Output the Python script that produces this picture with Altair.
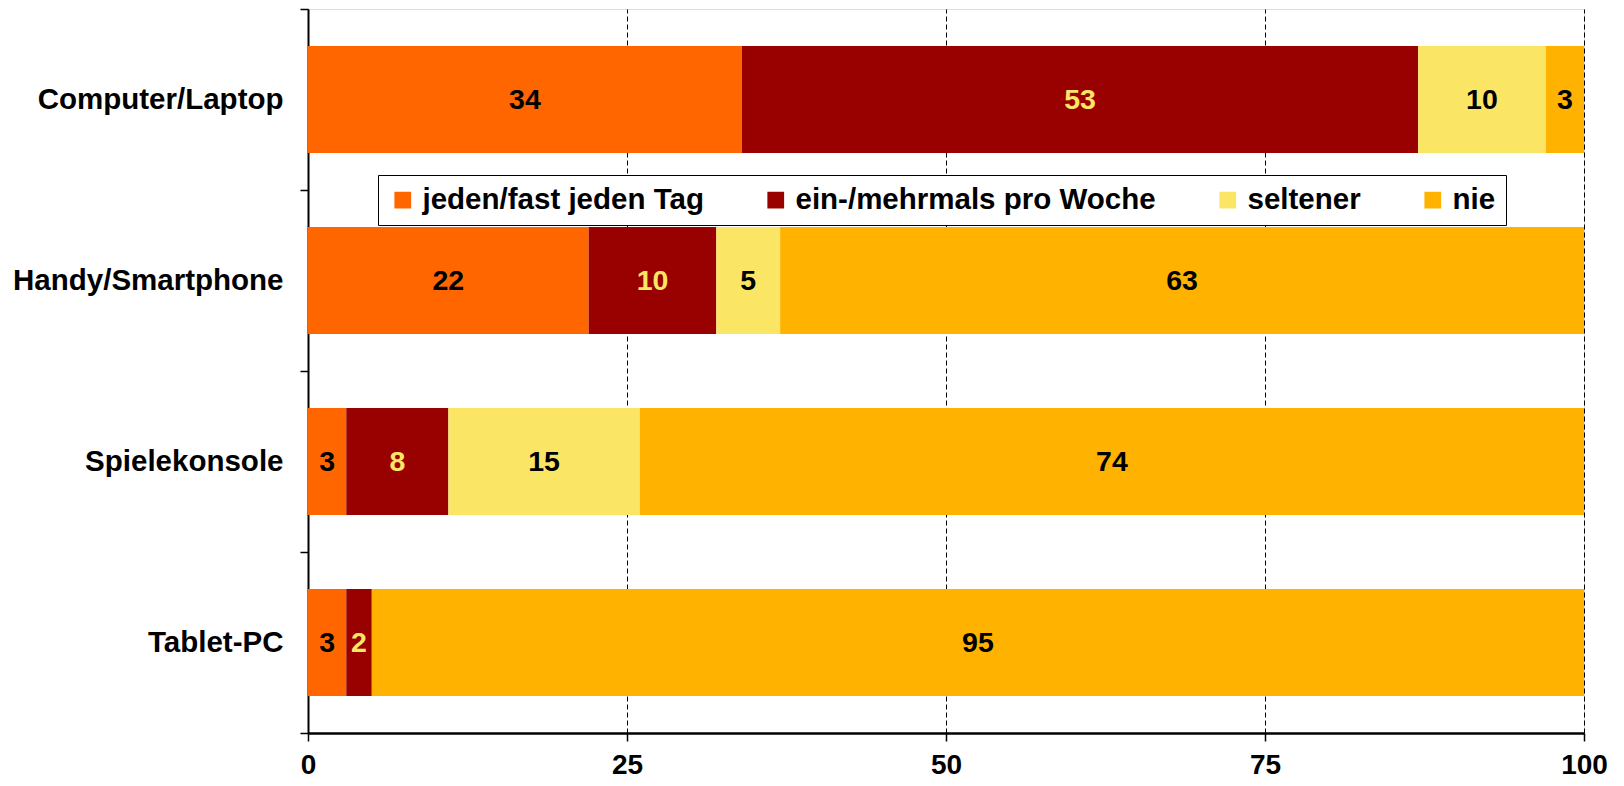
import altair as alt
import pandas as pd

devices = ["Computer/Laptop", "Handy/Smartphone", "Spielekonsole", "Tablet-PC"]
categories = ["jeden/fast jeden Tag", "ein-/mehrmals pro Woche", "seltener", "nie"]
jeden = [34, 22, 3, 3]
woechentlich = [53, 10, 8, 2]
seltener = [10, 5, 15, 0]
nie = [3, 63, 74, 95]

colors = ["#FF6600", "#990000", "#FAE664", "#FFB300"]

rows = []
for i, d in enumerate(devices):
    for j, (c, vals) in enumerate(zip(categories, [jeden, woechentlich, seltener, nie])):
        rows.append({"device": d, "cat": c, "order": j, "value": vals[i]})
df = pd.DataFrame(rows)

FONT = "Liberation Sans"

base = alt.Chart(df).transform_stack(
    stack="value", as_=["x0", "x1"], groupby=["device"], sort=[alt.SortField("order")]
).transform_calculate(mid="(datum.x0 + datum.x1) / 2")

y_enc = alt.Y(
    "device:N",
    sort=devices,
    title=None,
    scale=alt.Scale(paddingInner=0, paddingOuter=0),
    axis=alt.Axis(
        labelFont=FONT, labelFontSize=29.5, labelFontWeight="bold", labelColor="black",
        labelPadding=17, labelLimit=500, tickBand="extent", tickSize=8,
        tickColor="black", tickWidth=1.5,
        domainColor="black", domainWidth=2, grid=False,
    ),
)

bars = base.mark_bar(stroke=None, height=alt.RelativeBandSize(0.59)).encode(
    x=alt.X(
        "x0:Q",
        scale=alt.Scale(domain=[0, 100], nice=False, zero=True),
        title=None,
        axis=alt.Axis(
            values=[0, 25, 50, 75, 100], labelFont=FONT, labelFontSize=28,
            labelFontWeight="bold", labelColor="black", labelPadding=10,
            tickSize=8, tickColor="black", tickWidth=1.5,
            domainColor="black", domainWidth=2.5,
            grid=True, gridColor="black", gridDash=[5, 3], gridWidth=1,
            labelFlush=False,
        ),
    ),
    x2="x1:Q",
    y=y_enc,
    color=alt.Color(
        "cat:N",
        scale=alt.Scale(domain=categories, range=colors),
        legend=alt.Legend(
            title=None, orient="none", direction="horizontal",
            legendX=70, legendY=166,
            symbolType="square", symbolSize=280, symbolStrokeWidth=0,
            labelFont=FONT, labelFontSize=29.5, labelFontWeight="bold", labelColor="black",
            labelLimit=600, labelOffset=5, columnPadding=57,
            padding=10, strokeColor="black", fillColor="white",
        ),
    ),
    order=alt.Order("order:Q"),
)

labels = base.transform_filter(alt.datum.value > 0).mark_text(
    font=FONT, fontSize=28.5, fontWeight="bold", baseline="middle", align="center"
).encode(
    x=alt.X("mid:Q"),
    y=alt.Y("device:N", sort=devices),
    text=alt.Text("value:Q"),
    color=alt.condition(
        alt.datum.cat == "ein-/mehrmals pro Woche", alt.value("#FAE664"), alt.value("black")
    ),
)

chart = alt.layer(bars, labels).properties(
    width=1276, height=724,
    padding={"left": 300, "top": 1, "right": 30, "bottom": 46},
    autosize="none",
).configure_view(stroke=None).configure_legend(strokeWidth=2).configure(background="white")

chart.save("out.html", embed_options={"renderer": "svg", "actions": False})
